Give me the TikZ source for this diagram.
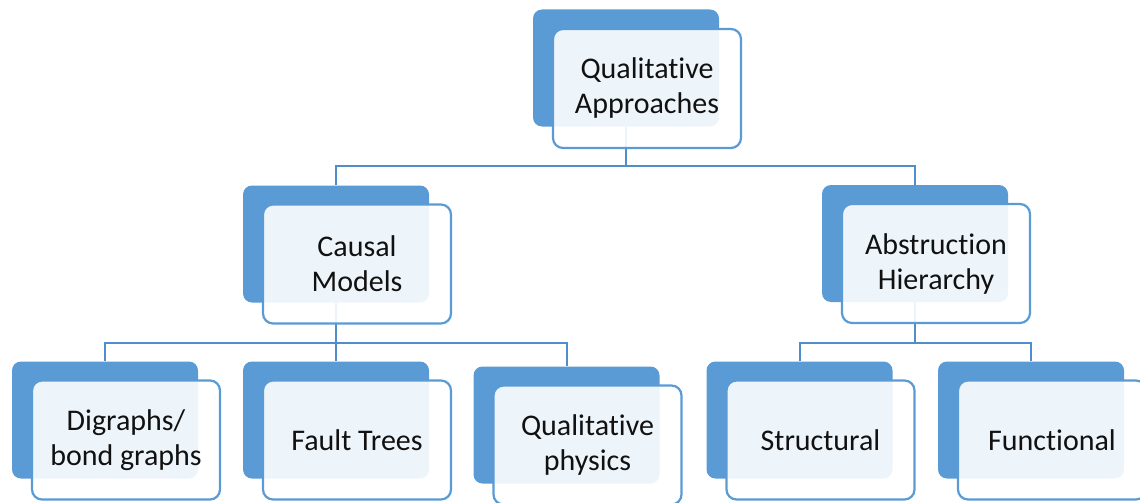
\documentclass[tikz,border=0pt]{standalone}
\usepackage{fontspec}
\setmainfont{Carlito}[Ligatures={NoCommon,NoRare}]
\usetikzlibrary{calc}
\definecolor{backblue}{HTML}{5B9BD5}
\definecolor{lineblue}{HTML}{4F8DCB}
\definecolor{txt}{HTML}{111111}
\begin{document}
\begin{tikzpicture}[x=1pt,y=-1pt,
  backbox/.style={fill=backblue, rounded corners=9pt, minimum width=186pt, minimum height=117pt, inner sep=0pt},
  frontbox/.style={draw=backblue, line width=2.2pt, fill=white, fill opacity=0.9, text opacity=1, rounded corners=10pt,
     minimum width=188pt, minimum height=119pt, inner sep=0pt, align=center, text=txt,
     font=\fontsize{30}{35}\selectfont},
  conn/.style={draw=lineblue, line width=2pt}]
\useasboundingbox (0,0) rectangle (1140,503);
\clip (0,0) rectangle (1140,503);
% back boxes
\node[backbox] (top) at (626,68) {};
\node[backbox] (causal) at (336,244) {};
\node[backbox] (abs) at (915,243.5) {};
\node[backbox] (dig) at (105,420) {};
\node[backbox] (fault) at (336,420) {};
\node[backbox] (qp) at (566.5,425) {};
\node[backbox] (st) at (799.5,420) {};
\node[backbox] (fn) at (1031,420) {};
% connectors
\coordinate (bus1) at (626,165.5);
\coordinate (bus2) at (336,342.5);
\coordinate (bus3) at (915,342.5);
\draw[conn] (top.south) -- (bus1);
\draw[conn] (causal.north) |- (bus1) -| (abs.north);
\draw[conn] (causal.south) -- (bus2) -- (fault.north);
\draw[conn] (dig.north) |- (bus2) -| (qp.north);
\draw[conn] (abs.south) -- (bus3);
\draw[conn] (st.north) |- (bus3) -| (fn.north);
% front boxes
\node[frontbox] (topf) at ($(top)+(21,20.5)$) {Qualitative\\Approaches};
\node[frontbox] (causalf) at ($(causal)+(21,20)$) {Causal\\Models};
\node[frontbox] (absf) at ($(abs)+(21,20)$) {Abstruction\\Hierarchy};
\node[frontbox] (digf) at ($(dig)+(21,20)$) {Digraphs/\\bond graphs};
\node[frontbox] (faultf) at ($(fault)+(21,20)$) {Fault Trees};
\node[frontbox] (qpf) at ($(qp)+(21,20)$) {Qualitative\\physics};
\node[frontbox] (stf) at ($(st)+(21,20)$) {Structural};
\node[frontbox] (fnf) at ($(fn)+(21,20)$) {Functional};
\end{tikzpicture}
\end{document}
